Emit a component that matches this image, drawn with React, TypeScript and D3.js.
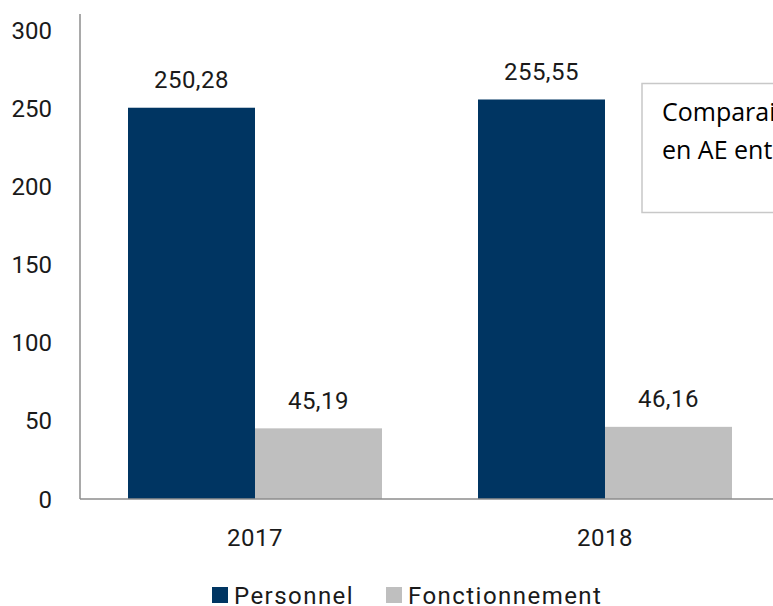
import React from 'react';
import * as d3 from 'd3';

const categories = ['2017', '2018'];
const seriesNames = ['Personnel', 'Fonctionnement'];
const personnel = [250.28, 255.55];
const fonctionnement = [45.19, 46.16];
const yTicks = [0, 50, 100, 150, 200, 250, 300];
const colors = ['#003562', '#bfbfbf'];
const boxLines = ['Comparaison des crédits', 'en AE entre 2017 et 2018'];

const W = 773;
const H = 606;
const FONT = 'Roboto, sans-serif';

export default function App() {
  const y = d3.scaleLinear().domain([0, 300]).range([499, 30]);
  const x0 = d3.scaleBand<string>().domain(categories).range([80, 780]).paddingInner(0).paddingOuter(0);
  const x1 = d3.scaleBand<string>().domain(seriesNames).range([0, x0.bandwidth()]).paddingInner(0).paddingOuter(0.378);
  const values = [personnel, fonctionnement];
  const fmt = (v: number) => v.toFixed(2).replace('.', ',');

  return (
    <svg width={W} height={H} style={{ position: 'absolute', left: 0, top: 0, background: '#fff' }}>
      {/* y tick labels */}
      {yTicks.map((t) => (
        <text key={t} x={52} y={y(t)} dy="0.36em" textAnchor="end" fontFamily={FONT} fontSize={24} fill="#1a1a1a">
          {t}
        </text>
      ))}
      {/* bars */}
      {categories.map((c, ci) => (
        <g key={c} transform={`translate(${x0(c)},0)`}>
          {seriesNames.map((s, si) => {
            const v = values[si][ci];
            const bx = x1(s) as number;
            return (
              <g key={s}>
                <rect x={bx} y={y(v)} width={x1.bandwidth()} height={y(0) - y(v)} fill={colors[si]} />
                <text x={bx + x1.bandwidth() / 2} y={y(v) - 28} dy="0.36em" textAnchor="middle" fontFamily={FONT} fontSize={24} letterSpacing={0.5} fill="#1a1a1a">
                  {fmt(v)}
                </text>
              </g>
            );
          })}
          <text x={x0.bandwidth() / 2} y={537} dy="0.36em" textAnchor="middle" fontFamily={FONT} fontSize={24} letterSpacing={0.5} fill="#1a1a1a">
            {c}
          </text>
        </g>
      ))}
      {/* axes */}
      <line x1={80} x2={80} y1={14} y2={499} stroke="#8c8c8c" strokeWidth={1.5} />
      <line x1={80} x2={W} y1={499} y2={499} stroke="#8c8c8c" strokeWidth={1.5} />
      {/* text box */}
      <rect x={642} y={83.5} width={200} height={129} fill="#fff" stroke="#c8c8c8" strokeWidth={1.5} />
      {boxLines.map((l, i) => (
        <text key={i} x={662} y={112 + i * 38} dy="0.36em" fontFamily="'Open Sans', sans-serif" fontSize={25} fill="#000">
          {l}
        </text>
      ))}
      {/* legend */}
      {seriesNames.map((s, i) => {
        const lx = [212, 386][i];
        return (
          <g key={s}>
            <rect x={lx} y={587} width={16} height={16} fill={colors[i]} />
            <text x={lx + 22} y={595} dy="0.36em" fontFamily={FONT} fontSize={24} letterSpacing={1.45} fill="#1a1a1a">
              {s}
            </text>
          </g>
        );
      })}
    </svg>
  );
}
